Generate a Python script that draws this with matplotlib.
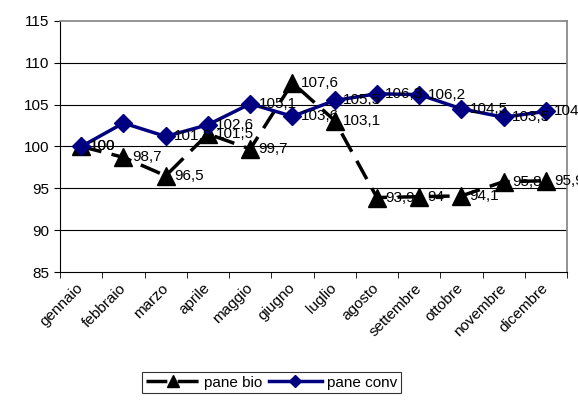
import matplotlib
matplotlib.use("Agg")
import matplotlib.pyplot as plt
import numpy as np

plt.rcParams['font.family'] = ['Liberation Sans', 'DejaVu Sans']

mesi = ['gennaio', 'febbraio', 'marzo', 'aprile', 'maggio', 'giugno',
        'luglio', 'agosto', 'settembre', 'ottobre', 'novembre', 'dicembre']
pane_bio = [100, 98.7, 96.5, 101.5, 99.7, 107.6, 103.1, 93.9, 94.0, 94.1, 95.8, 95.9]
pane_conv = [100, 102.8, 101.2, 102.6, 105.1, 103.6, 105.5, 106.3, 106.2, 104.5, 103.5, 104.2]
bio_labels = ['100', '98,7', '96,5', '101,5', '99,7', '107,6', '103,1', '93,9', '94', '94,1', '95,8', '95,9']
conv_labels = ['100', '', '101,2', '102,6', '105,1', '103,6', '105,5', '106,3', '106,2', '104,5', '103,5', '104,2']

fig = plt.figure(figsize=(5.78, 4.03), dpi=100)
ax = fig.add_axes([0.104, 0.325, 0.877, 0.623])

x = np.arange(len(mesi))
ax.plot(x, pane_bio, color='black', linewidth=2.5, linestyle=(0, (6, 3)),
        marker='^', markersize=13, markerfacecolor='black', label='pane bio', zorder=3)
ax.plot(x, pane_conv, color='#000080', linewidth=2.5, marker='D', markersize=9,
        markerfacecolor='#000080', label='pane conv', zorder=4)

for xi, v, t in zip(x, pane_bio, bio_labels):
    ax.annotate(t, (xi, v), xytext=(6, 0), textcoords='offset points',
                va='center', ha='left', fontsize=11, zorder=5)
for xi, v, t in zip(x, pane_conv, conv_labels):
    if t:
        ax.annotate(t, (xi, v), xytext=(6, 0), textcoords='offset points',
                    va='center', ha='left', fontsize=11, zorder=5)

ax.set_xlim(-0.5, len(mesi) - 0.5)
ax.set_ylim(85, 115)
ax.set_yticks(np.arange(85, 116, 5))
ax.tick_params(axis='y', labelsize=11, direction='out', length=4)
ax.set_xticks(x)
ax.set_xticklabels(mesi, rotation=45, ha='right', va='center',
                   rotation_mode='anchor', fontsize=11)
ax.tick_params(axis='x', length=0, pad=10)
ax.set_xticks(np.arange(-0.5, len(mesi)), minor=True)
ax.tick_params(axis='x', which='minor', length=4, direction='out')

for yv in [90, 95, 100, 105, 110]:
    ax.axhline(yv, color='black', linewidth=0.8, zorder=1)

ax.spines['top'].set_color('#808080')
ax.spines['right'].set_color('#808080')
ax.spines['top'].set_linewidth(1.2)
ax.spines['right'].set_linewidth(1.2)

leg = fig.legend(loc='lower center', bbox_to_anchor=(0.47, 0.005), ncol=2, fontsize=11,
                 frameon=True, fancybox=False, edgecolor='black', handlelength=3.5,
                 columnspacing=0.4, handletextpad=0.3, borderpad=0.25, markerscale=0.7)
leg.get_frame().set_linewidth(0.8)

fig.savefig('out.png', dpi=100)
